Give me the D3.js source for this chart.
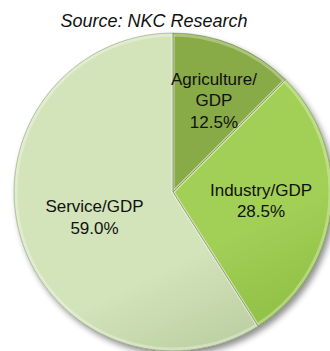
<!DOCTYPE html>
<html>
<head>
<meta charset="utf-8">
<script src="https://cdn.jsdelivr.net/npm/d3@7"></script>
<style>
  html, body { margin: 0; padding: 0; background: #ffffff; }
  svg { display: block; }
</style>
</head>
<body>
<svg id="chart" width="330" height="351"></svg>
<script>
const categories = ["Agriculture/GDP", "Industry/GDP", "Service/GDP"];
const labelLines = [["Agriculture/", "GDP"], ["Industry/GDP"], ["Service/GDP"]];
const values = [12.5, 28.5, 59.0];
const sourceText = "Source: NKC Research";

const colors = ["#789a3a", "#8aba40", "#b2c898"];
const lightColors = ["#88aa46", "#a2cf56", "#d3e3ba"];

const W = 330, H = 351;
const cx = 173, cy = 192, R = 159;
// label placement: [radius fraction, angle offset (rad)] relative to slice mid-angle
const labelPlace = [[0.633, 0.026], [0.556, -0.014], [0.518, -0.025]];

const svg = d3.select("#chart");
const defs = svg.append("defs");

const shadow = defs.append("filter").attr("id", "shadow")
  .attr("x", "-20%").attr("y", "-20%").attr("width", "140%").attr("height", "140%");
shadow.append("feGaussianBlur").attr("in", "SourceAlpha").attr("stdDeviation", 3);
shadow.append("feOffset").attr("dx", 3).attr("dy", 4).attr("result", "ob");
shadow.append("feComponentTransfer").append("feFuncA").attr("type", "linear").attr("slope", 0.45);
const merge = shadow.append("feMerge");
merge.append("feMergeNode");
merge.append("feMergeNode").attr("in", "SourceGraphic");

colors.forEach((c, i) => {
  const g = defs.append("linearGradient").attr("id", "grad" + i)
    .attr("gradientUnits", "userSpaceOnUse")
    .attr("x1", cx - 110).attr("y1", cy - 150)
    .attr("x2", cx + 40).attr("y2", cy + R);
  g.append("stop").attr("offset", "0%").attr("stop-color", lightColors[i]);
  g.append("stop").attr("offset", "40%").attr("stop-color", c);
  g.append("stop").attr("offset", "100%").attr("stop-color", d3.color(c).darker(0.2));
});

// title
svg.append("text")
  .attr("x", 154).attr("y", 27)
  .attr("text-anchor", "middle")
  .attr("font-family", "Liberation Sans, Arial, sans-serif")
  .attr("font-style", "italic")
  .attr("font-size", 18)
  .attr("fill", "#111")
  .text(sourceText);

const pie = d3.pie().sort(null).value(d => d);
const arcs = pie(values);
const arc = d3.arc().innerRadius(0).outerRadius(R);

const g = svg.append("g").attr("transform", `translate(${cx},${cy})`);

const pieG = g.append("g").attr("filter", "url(#shadow)");
pieG.selectAll("path.slice")
  .data(arcs)
  .enter().append("path")
  .attr("class", "slice")
  .attr("d", arc)
  .attr("fill", (d, i) => `url(#grad${i})`)
  .attr("stroke", "none");

// bevel: light inner rim
const bevelArc = d3.arc().innerRadius(0).outerRadius(R - 2);
g.selectAll("path.bevel")
  .data(arcs)
  .enter().append("path")
  .attr("class", "bevel")
  .attr("d", bevelArc)
  .attr("fill", "none")
  .attr("stroke", "rgba(255,255,255,0.3)")
  .attr("stroke-width", 3)
  .attr("stroke-linejoin", "round");
g.selectAll("path.edge")
  .data(arcs)
  .enter().append("path")
  .attr("class", "edge")
  .attr("d", arc)
  .attr("fill", "none")
  .attr("stroke", "rgba(60,80,30,0.35)")
  .attr("stroke-width", 0.8);

// labels
const fs = 17, lh = 21.5;
arcs.forEach((d, i) => {
  const [rf, da] = labelPlace[i];
  const a = (d.startAngle + d.endAngle) / 2 + da;
  const r = R * rf;
  const x = r * Math.sin(a), y = -r * Math.cos(a);
  const lines = labelLines[i].concat([values[i].toFixed(1) + "%"]);
  const t = g.append("text")
    .attr("text-anchor", "middle")
    .attr("font-family", "Liberation Sans, Arial, sans-serif")
    .attr("font-size", fs)
    .attr("fill", "#111");
  const y0 = y - (lines.length - 1) * lh / 2 + fs * 0.35;
  lines.forEach((ln, k) => {
    t.append("tspan").attr("x", x).attr("y", y0 + k * lh).text(ln);
  });
});
</script>
</body>
</html>
